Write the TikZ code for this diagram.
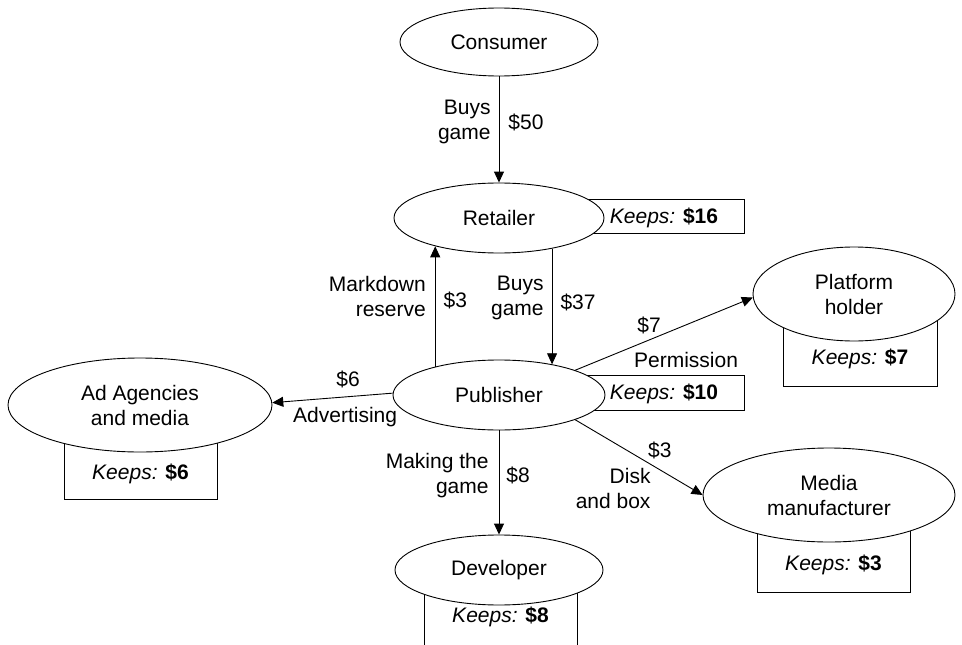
\documentclass[tikz,border=0pt]{standalone}
\usepackage{fontspec}
\setmainfont{Liberation Sans}
\usetikzlibrary{arrows.meta,positioning,shapes.geometric}
\newcommand{\keeps}[1]{\textit{Keeps:} \textbf{\$#1}}

\begin{document}
\begin{tikzpicture}[x=1pt,y=-1pt,
    el/.style={draw,ellipse,fill=white,inner sep=0pt,align=center,line width=0.9pt,font=\fontsize{21}{25}\selectfont},
    kb/.style={draw,rectangle,inner sep=0pt,anchor=base,line width=0.9pt,font=\fontsize{21}{25}\selectfont},
    a/.style={-{Triangle[length=11pt,width=10pt]},line width=0.9pt},
    lb/.style={inner sep=0pt,align=right,font=\fontsize{21}{25}\selectfont}]
    \clip (0,0) rectangle (962,645);
    \node[kb,minimum width=160pt,text height=24.5pt,text depth=9.5pt] (kr) at (664,223.5) {\keeps{16}};
    \node[kb,minimum width=160pt,text height=24.5pt,text depth=10.5pt] (kp) at (664,399.5) {\keeps{10}};
    \node[kb,minimum width=154pt,text height=45pt,text depth=21.5pt] (kpl) at (860,364.5) {\keeps{7}};
    \node[kb,minimum width=153pt,text height=60pt,text depth=19.5pt] (ka) at (140.5,479.5) {\keeps{6}};
    \node[kb,minimum width=153pt,text height=45pt,text depth=40pt] (kd) at (500.5,622.5) {\keeps{8}};
    \node[kb,minimum width=153pt,text height=50pt,text depth=21.5pt] (km) at (833.5,570.5) {\keeps{3}};
    \node[el,minimum width=198pt,minimum height=68pt] (c) at (499,42) {Consumer};
    \node[el,minimum width=210pt,minimum height=70pt] (r) at (499,218) {Retailer};
    \node[el,minimum width=212pt,minimum height=70pt] (p) at (499,395) {Publisher};
    \node[el,minimum width=202pt,minimum height=94pt] (pl) at (854,294) {Platform\\holder};
    \node[el,minimum width=264pt,minimum height=94pt] (ad) at (140,405) {Ad Agencies\\and media};
    \node[el,minimum width=208pt,minimum height=70pt] (d) at (499,570) {Developer};
    \node[el,minimum width=252pt,minimum height=94pt] (m) at (829,495) {Media\\manufacturer};
    \draw[a] (c) -- (r) node[lb,pos=0.425,left=8pt] {Buys\\game} node[lb,pos=0.43,right=9pt] {\$50};
    \draw[a] (p.156) -- (p.156 |- r.204) node[lb,pos=0.584,left=9pt] {Markdown\\reserve} node[lb,pos=0.546,right=8pt] {\$3};
    \draw[a] (r.330) -- (r.330 |- p.30) node[lb,pos=0.427,left=8pt] {Buys\\game} node[lb,pos=0.466,right=8pt] {\$37};
    \draw[a] (p.18) -- (pl.182) node[lb,pos=0.416,yshift=15pt] {\$7} node[lb,pos=0.624,yshift=-35pt] {Permission};
    \draw[a] (p.179) -- (ad.1) node[lb,pos=0.37,yshift=17pt] {\$6} node[lb,pos=0.395,yshift=-20pt] {Advertising};
    \draw[a] (p.342) -- (m.180) node[lb,pos=0.665,yshift=19.5pt] {\$3} node[lb,pos=0.595,anchor=east,yshift=-23.5pt] {Disk\\and box};
    \draw[a] (p) -- (d) node[lb,pos=0.433,left=10pt] {Making the\\game} node[lb,pos=0.43,right=7pt] {\$8};
  \end{tikzpicture}
\end{document}
